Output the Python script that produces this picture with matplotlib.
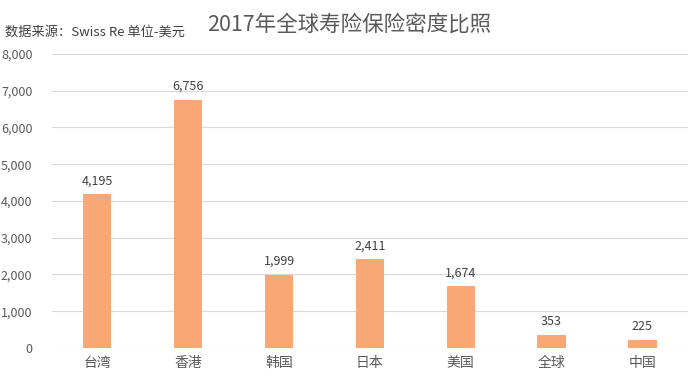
import matplotlib
matplotlib.use("Agg")
import matplotlib.pyplot as plt

plt.rcParams['font.family'] = ['Noto Sans CJK SC', 'DejaVu Sans']

regions = ["台湾", "香港", "韩国", "日本", "美国", "全球", "中国"]
density = [4195, 6756, 1999, 2411, 1674, 353, 225]
yticks = [0, 1000, 2000, 3000, 4000, 5000, 6000, 7000, 8000]

fig = plt.figure(figsize=(6.92, 3.82), dpi=100)
ax = fig.add_axes([0.075, 0.089, 0.919, 0.77])

x = range(len(regions))
bars = ax.bar(x, density, width=0.31, color="#F9A875", zorder=3)
for b, v in zip(bars, density):
    ax.text(b.get_x() + b.get_width() / 2, v + 180, f"{v:,}",
            ha="center", va="bottom", fontsize=9, color="#404040")

ax.set_xlim(-0.5, len(regions) - 0.5)
ax.set_ylim(0, 8000)
ax.set_yticks(yticks)
ax.set_yticklabels([f"{t:,}" for t in yticks])
ax.set_xticks(list(x))
ax.set_xticklabels(regions)
ax.tick_params(axis="both", length=0, colors="#595959", labelsize=9)
ax.tick_params(axis="x", labelsize=10, pad=6)
ax.tick_params(axis="y", pad=14)
ax.grid(axis="y", color="#D9D9D9", linewidth=0.8, zorder=0)
for s in ax.spines.values():
    s.set_visible(False)

fig.text(0.505, 0.935, "2017年全球寿险保险密度比照", ha="center", va="center",
         fontsize=15.5, color="#595959")
fig.text(0.007, 0.917, "数据来源：Swiss Re 单位-美元", ha="left", va="center",
         fontsize=9.5, color="#404040")

fig.savefig("out.png", dpi=100)
